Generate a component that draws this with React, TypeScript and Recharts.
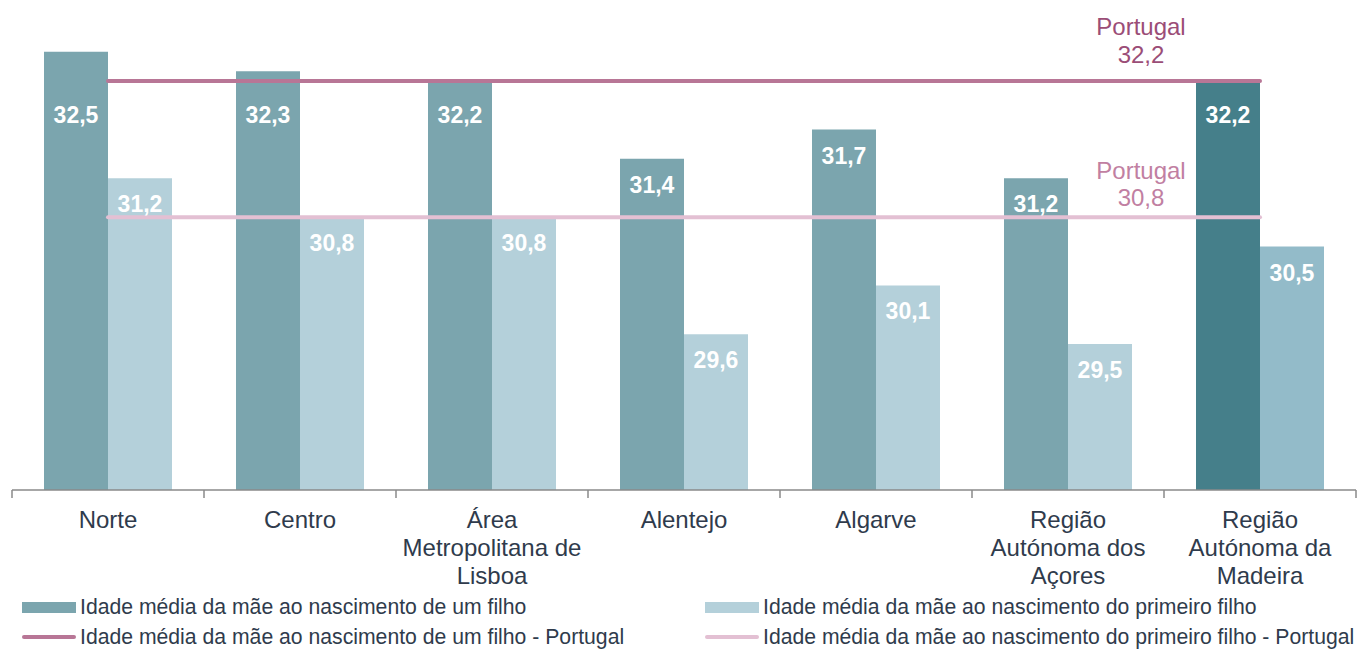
import React from "react";
import {
  ComposedChart,
  Bar,
  Line,
  XAxis,
  YAxis,
  Cell,
  LabelList,
} from "recharts";

const regions = [
  "Norte",
  "Centro",
  "Área\nMetropolitana de\nLisboa",
  "Alentejo",
  "Algarve",
  "Região\nAutónoma dos\nAçores",
  "Região\nAutónoma da\nMadeira",
];
const anyChild = [32.5, 32.3, 32.2, 31.4, 31.7, 31.2, 32.2];
const firstChild = [31.2, 30.8, 30.8, 29.6, 30.1, 29.5, 30.5];
const ptAnyChild = 32.2;
const ptFirstChild = 30.8;

const seriesNames = [
  "Idade média da mãe ao nascimento de um filho",
  "Idade média da mãe ao nascimento do primeiro filho",
  "Idade média da mãe ao nascimento de um filho - Portugal",
  "Idade média da mãe ao nascimento do primeiro filho - Portugal",
];

const Y_MIN = 28;
const Y_MAX = 33;

const DARK = "#7ba5ae";
const LIGHT = "#b4d0da";
const DARK_HL = "#457f8a";
const LIGHT_HL = "#93bbc9";
const LINE1 = "#b87696";
const LINE2 = "#e3c0d3";
const TEXT = "#2f3b4c";
const FONT = "'Liberation Sans', Arial, sans-serif";

const W = 1358;
const H = 649;
const CAT_W = (W - 12 - 2) / regions.length;

const data = regions.map((r, i) => ({
  region: r,
  any: anyChild[i],
  first: firstChild[i],
  ptAny: ptAnyChild,
  ptFirst: ptFirstChild,
}));

function RegionTick(props: any) {
  const { x, y, payload, index } = props;
  const lines = String(payload.value).split("\n");
  const last = index === regions.length - 1;
  return (
    <g>
      <line x1={x - CAT_W / 2} x2={x - CAT_W / 2} y1={y} y2={y + 8} stroke="#8a8a8a" strokeWidth={1.5} />
      {last && (
        <line x1={x + CAT_W / 2} x2={x + CAT_W / 2} y1={y} y2={y + 8} stroke="#8a8a8a" strokeWidth={1.5} />
      )}
      <text textAnchor="middle" fill={TEXT} fontSize={24} fontFamily={FONT}>
        {lines.map((l, i) => (
          <tspan key={i} x={x} y={y + 29 + i * 28} dominantBaseline="central">
            {l}
          </tspan>
        ))}
      </text>
    </g>
  );
}

// value labels inside the bars; the ones that would sit on the national line go below it
function barLabel(avoidLine: number | null) {
  return (props: any) => {
    const { x, y, width, height, value } = props;
    let cy = y + 26;
    if (avoidLine !== null && value >= avoidLine) {
      const yLine = y + (height * (value - avoidLine)) / (value - Y_MIN);
      cy = yLine + 34;
    }
    return (
      <text
        x={x + width / 2}
        y={cy}
        textAnchor="middle"
        dominantBaseline="central"
        fill="#ffffff"
        fontSize={23}
        fontWeight="bold"
        fontFamily={FONT}
      >
        {String(value).replace(".", ",")}
      </text>
    );
  };
}

function ptLabel(color: string, d1: number, d2: number) {
  return (props: any) => {
    const { x, y, value, index } = props;
    if (index !== regions.length - 1) return null;
    return (
      <text textAnchor="middle" fill={color} fontSize={24} fontFamily={FONT}>
        <tspan x={x - 119} y={y + d1} dominantBaseline="central">
          Portugal
        </tspan>
        <tspan x={x - 119} y={y + d2} dominantBaseline="central">
          {String(value).replace(".", ",")}
        </tspan>
      </text>
    );
  };
}

function LegendRow() {
  const items = [
    { name: seriesNames[0], color: DARK, kind: "bar", left: 22, top: 0 },
    { name: seriesNames[1], color: LIGHT, kind: "bar", left: 705, top: 0 },
    { name: seriesNames[2], color: LINE1, kind: "line", left: 22, top: 30 },
    { name: seriesNames[3], color: LINE2, kind: "line", left: 705, top: 30 },
  ];
  return (
    <div style={{ position: "absolute", left: 0, top: 592, width: W, height: 57 }}>
      {items.map((it) => (
        <div
          key={it.name}
          style={{
            position: "absolute",
            left: it.left,
            top: it.top,
            height: 30,
            display: "flex",
            alignItems: "center",
            fontFamily: FONT,
            fontSize: 21.2,
            color: TEXT,
            whiteSpace: "nowrap",
          }}
        >
          <span
            style={{
              display: "inline-block",
              width: 54,
              height: it.kind === "bar" ? 11 : 4,
              borderRadius: it.kind === "bar" ? 0 : 2,
              background: it.color,
              marginRight: 4,
            }}
          />
          {it.name}
        </div>
      ))}
    </div>
  );
}

export default function App() {
  return (
    <div style={{ position: "absolute", left: 0, top: 0, width: W, height: H, background: "#fff" }}>
      <ComposedChart
        width={W}
        height={H}
        data={data}
        margin={{ top: 3, right: 2, bottom: 59, left: 12 }}
        barCategoryGap={32}
        barGap={0}
      >
        <XAxis
          dataKey="region"
          interval={0}
          height={100}
          tickSize={0}
          tickMargin={0}
          tickLine={false}
          axisLine={{ stroke: "#8a8a8a", strokeWidth: 1.5 }}
          tick={<RegionTick />}
        />
        <YAxis hide domain={[Y_MIN, Y_MAX]} />
        <Bar dataKey="any" name={seriesNames[0]} isAnimationActive={false}>
          {data.map((_, i) => (
            <Cell key={i} fill={i === regions.length - 1 ? DARK_HL : DARK} />
          ))}
          <LabelList dataKey="any" content={barLabel(ptAnyChild)} />
        </Bar>
        <Bar dataKey="first" name={seriesNames[1]} isAnimationActive={false}>
          {data.map((_, i) => (
            <Cell key={i} fill={i === regions.length - 1 ? LIGHT_HL : LIGHT} />
          ))}
          <LabelList dataKey="first" content={barLabel(null)} />
        </Bar>
        <Line
          dataKey="ptAny"
          name={seriesNames[2]}
          stroke={LINE1}
          strokeWidth={4}
          strokeLinecap="round"
          dot={false}
          activeDot={false}
          isAnimationActive={false}
        >
          <LabelList dataKey="ptAny" content={ptLabel("#9b4d77", -54, -26)} />
        </Line>
        <Line
          dataKey="ptFirst"
          name={seriesNames[3]}
          stroke={LINE2}
          strokeWidth={4}
          strokeLinecap="round"
          dot={false}
          activeDot={false}
          isAnimationActive={false}
        >
          <LabelList dataKey="ptFirst" content={ptLabel("#c17fa2", -47, -20)} />
        </Line>
      </ComposedChart>
      <LegendRow />
    </div>
  );
}
